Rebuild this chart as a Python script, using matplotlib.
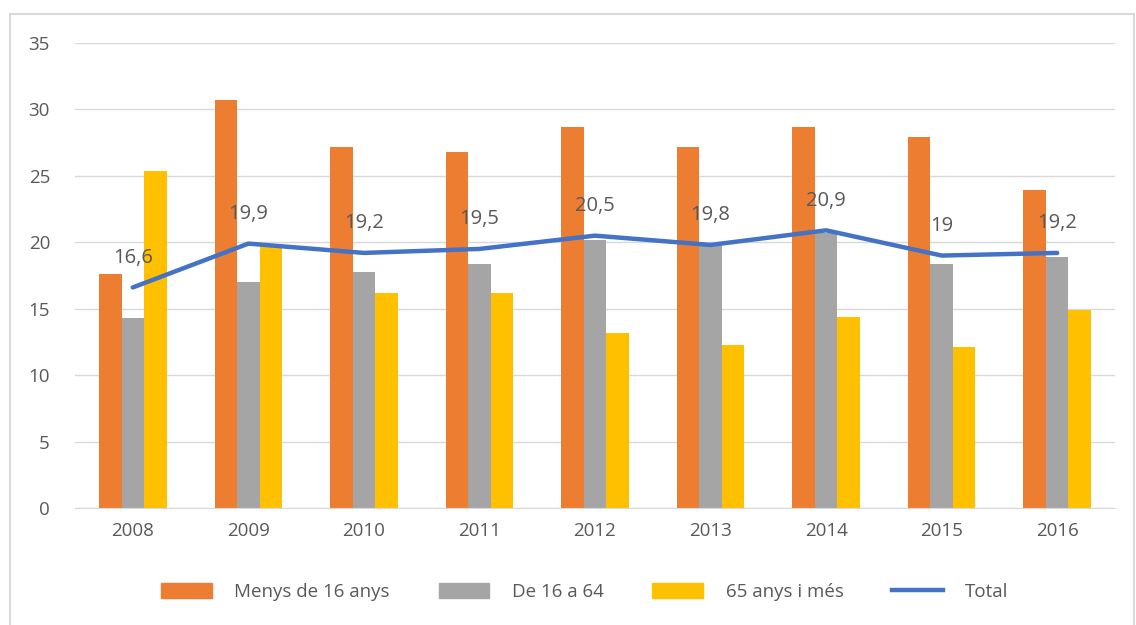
import numpy as np
import matplotlib.pyplot as plt
from matplotlib.patches import Rectangle, Patch
from matplotlib.lines import Line2D

plt.rcParams['font.family'] = ['Open Sans', 'DejaVu Sans']

anys = ['2008', '2009', '2010', '2011', '2012', '2013', '2014', '2015', '2016']
menys16 = [17.6, 30.7, 27.2, 26.8, 28.7, 27.2, 28.7, 27.9, 23.9]
de16a64 = [14.3, 17.0, 17.8, 18.4, 20.2, 19.7, 20.7, 18.4, 18.9]
mes65 = [25.4, 19.9, 16.2, 16.2, 13.2, 12.3, 14.4, 12.1, 14.9]
total = [16.6, 19.9, 19.2, 19.5, 20.5, 19.8, 20.9, 19.0, 19.2]
total_txt = ['16,6', '19,9', '19,2', '19,5', '20,5', '19,8', '20,9', '19', '19,2']

c_or = '#ED7D31'
c_gr = '#A5A5A5'
c_ye = '#FFC000'
c_bl = '#4472C4'
c_txt = '#595959'

fig = plt.figure(figsize=(11.36, 6.25), dpi=100)
ax = fig.add_axes([75 / 1136, 1 - 508 / 625, 1040 / 1136, 465 / 625])

x = np.arange(len(anys))
w = 0.195
ax.bar(x - w, menys16, w, color=c_or, zorder=2)
ax.bar(x, de16a64, w, color=c_gr, zorder=2)
ax.bar(x + w, mes65, w, color=c_ye, zorder=2)
ax.plot(x, total, color=c_bl, lw=3.2, zorder=3, solid_capstyle='round')

for xi, yi, t in zip(x, total, total_txt):
    ax.annotate(t, (xi, yi), xytext=(0, 14), textcoords='offset points',
                ha='center', va='bottom', fontsize=14.5, color=c_txt, zorder=4)

ax.set_xlim(-0.5, len(anys) - 0.5)
ax.set_ylim(0, 35)
ax.set_yticks(range(0, 36, 5))
ax.set_xticks(x)
ax.set_xticklabels(anys)
ax.tick_params(length=0, labelsize=13.5, colors=c_txt, pad=10)
ax.tick_params(axis='y', pad=18)
ax.grid(axis='y', color='#D9D9D9', lw=1, zorder=0)
for s in ['top', 'right', 'left']:
    ax.spines[s].set_visible(False)
ax.spines['bottom'].set_color('#D9D9D9')

handles = [Patch(color=c_or, label='Menys de 16 anys'),
           Patch(color=c_gr, label='De 16 a 64'),
           Patch(color=c_ye, label='65 anys i més'),
           Line2D([0], [0], color=c_bl, lw=3.2, label='Total')]
leg = fig.legend(handles=handles, loc='center', bbox_to_anchor=(585 / 1136, 1 - 592 / 625),
                 ncol=4, frameon=False, fontsize=13.5, handlelength=2.7, handleheight=0.8,
                 columnspacing=2.6, handletextpad=1.2)
for t in leg.get_texts():
    t.set_color(c_txt)

fig.patches.append(Rectangle((10 / 1136, -0.01), 1124 / 1136, 1 - 14 / 625 + 0.01,
                             transform=fig.transFigure, fill=False,
                             edgecolor='#D9D9D9', lw=1.5))

fig.savefig('out.png', dpi=100)
